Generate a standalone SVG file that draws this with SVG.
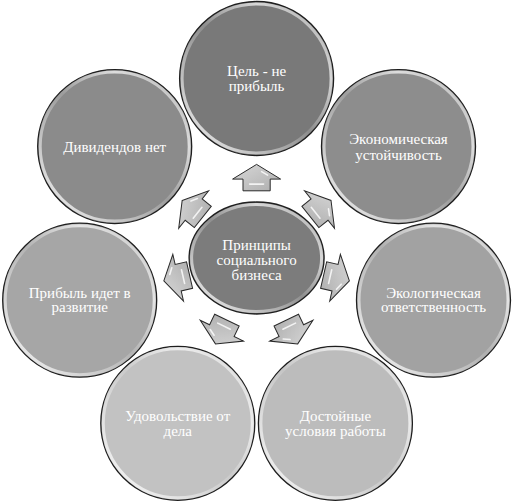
<svg xmlns="http://www.w3.org/2000/svg" xmlns:xlink="http://www.w3.org/1999/xlink" width="517" height="504" viewBox="0 0 517 504">
<style>
.ring{stroke:#1e1e1e;stroke-width:1.3}
.rim{fill:none;stroke:url(#rimGrad);stroke-width:3}
.lbl{font-size:15px;fill:#ffffff;text-anchor:middle}
.arr{fill:url(#arrGrad);stroke:#2a2a2a;stroke-width:1;stroke-linejoin:miter}
.hl{fill:none;stroke:#ffffff;stroke-width:1.6;stroke-linecap:round;opacity:0.8}
</style>
<defs>
<linearGradient id="rimGrad" x1="0" y1="1" x2="1" y2="0">
<stop offset="0" stop-color="#ffffff" stop-opacity="0.95"/>
<stop offset="0.3" stop-color="#ffffff" stop-opacity="0.45"/>
<stop offset="0.5" stop-color="#ffffff" stop-opacity="0.15"/>
<stop offset="0.75" stop-color="#ffffff" stop-opacity="0.7"/>
<stop offset="1" stop-color="#ffffff" stop-opacity="0.3"/>
</linearGradient>
<linearGradient id="arrGrad" x1="0" y1="0" x2="1" y2="1">
<stop offset="0" stop-color="#d8d8d8"/>
<stop offset="1" stop-color="#adadad"/>
</linearGradient>
<g id="arrow">
<polygon class="arr" points="0,-13.2 24,1.5 13.6,1.5 13.6,13.2 -13.6,13.2 -13.6,1.5 -24,1.5"/>
<polyline class="hl" points="5,-6 11,-2.5"/>
<line class="hl" x1="-7" y1="6.5" x2="7" y2="6.5"/>
</g>
</defs>

<g id="connectors">
<use xlink:href="#arrow" transform="translate(256.6,177.6)"/>
<use xlink:href="#arrow" transform="translate(320.7,208.7) rotate(51.43)"/>
<use xlink:href="#arrow" transform="translate(336.5,278) rotate(102.86)"/>
<use xlink:href="#arrow" transform="translate(292,332) rotate(154.29)"/>
<use xlink:href="#arrow" transform="translate(221.2,332) rotate(205.71)"/>
<use xlink:href="#arrow" transform="translate(176.7,278) rotate(257.14)"/>
<use xlink:href="#arrow" transform="translate(192.5,208.7) rotate(308.57)"/>
</g>

<g id="center">
<ellipse class="ring" cx="256.6" cy="258" rx="67.5" ry="56" fill="#7c7c7c"/>
<ellipse class="rim" cx="256.6" cy="258" rx="65" ry="53.5"/>
<text class="lbl" x="256.6" y="250" font-family="Liberation Serif, serif">Принципы</text>
<text class="lbl" x="256.6" y="265" font-family="Liberation Serif, serif">социального</text>
<text class="lbl" x="256.6" y="280" font-family="Liberation Serif, serif">бизнеса</text>
</g>

<g id="n-goal">
<circle class="ring" cx="256.6" cy="78.5" r="77" fill="#797979"/>
<circle class="rim" cx="256.6" cy="78.5" r="74.5"/>
<text class="lbl" x="256.6" y="76" font-family="Liberation Serif, serif">Цель - не</text>
<text class="lbl" x="256.6" y="91" font-family="Liberation Serif, serif">прибыль</text>
</g>

<g id="n-econ">
<circle class="ring" cx="398.5" cy="146.6" r="77" fill="#8d8d8d"/>
<circle class="rim" cx="398.5" cy="146.6" r="74.5"/>
<text class="lbl" x="398.5" y="144" font-family="Liberation Serif, serif">Экономическая</text>
<text class="lbl" x="398.5" y="159.5" font-family="Liberation Serif, serif">устойчивость</text>
</g>

<g id="n-ecol">
<circle class="ring" cx="433.5" cy="300.2" r="77" fill="#a2a2a2"/>
<circle class="rim" cx="433.5" cy="300.2" r="74.5"/>
<text class="lbl" x="433.5" y="297.5" font-family="Liberation Serif, serif">Экологическая</text>
<text class="lbl" x="433.5" y="312" font-family="Liberation Serif, serif">ответственность</text>
</g>

<g id="n-work">
<circle class="ring" cx="335.4" cy="423.3" r="77" fill="#bcbcbc"/>
<circle class="rim" cx="335.4" cy="423.3" r="74.5"/>
<text class="lbl" x="335.4" y="420.5" font-family="Liberation Serif, serif">Достойные</text>
<text class="lbl" x="335.4" y="435.5" font-family="Liberation Serif, serif">условия работы</text>
</g>

<g id="n-joy">
<circle class="ring" cx="177.8" cy="423.3" r="77" fill="#c2c2c2"/>
<circle class="rim" cx="177.8" cy="423.3" r="74.5"/>
<text class="lbl" x="177.8" y="420.5" font-family="Liberation Serif, serif">Удовольствие от</text>
<text class="lbl" x="177.8" y="435.5" font-family="Liberation Serif, serif">дела</text>
</g>

<g id="n-profit">
<circle class="ring" cx="79.7" cy="300.2" r="77" fill="#a6a6a6"/>
<circle class="rim" cx="79.7" cy="300.2" r="74.5"/>
<text class="lbl" x="79.7" y="297.5" font-family="Liberation Serif, serif">Прибыль идет в</text>
<text class="lbl" x="79.7" y="312" font-family="Liberation Serif, serif">развитие</text>
</g>

<g id="n-div">
<circle class="ring" cx="114.7" cy="146.6" r="77" fill="#8b8b8b"/>
<circle class="rim" cx="114.7" cy="146.6" r="74.5"/>
<text class="lbl" x="114.7" y="151.5" font-family="Liberation Serif, serif">Дивидендов нет</text>
</g>
</svg>
